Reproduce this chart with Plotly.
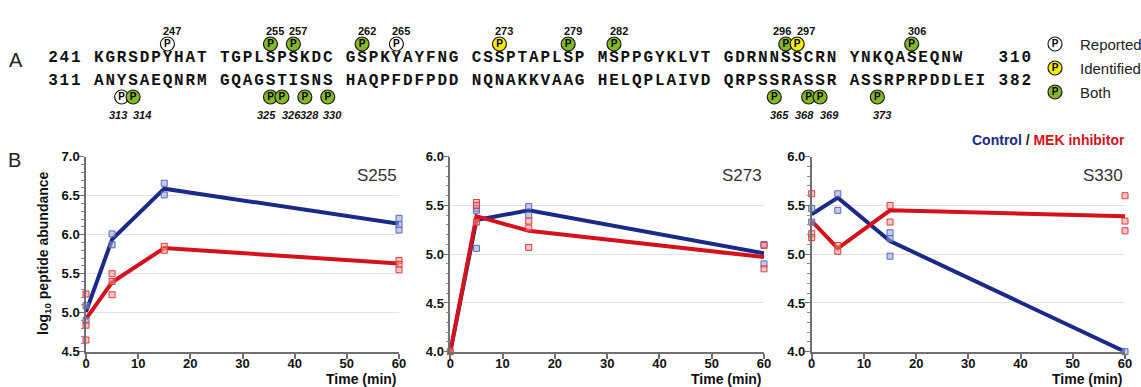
import plotly.graph_objects as go

# ---------------- Sequence, residues 241-382 ----------------
FIRST_RESIDUE = 241
ROW_BREAK = 310           # last residue of the first line
LAST_RESIDUE = 382
SEQUENCE = ("KGRSDPYHATTGPLSPSKDCGSPKYAYFNGCSSPTAPLSPMSPPGYKLVTGDRNNSSCRNYNKQASEQNW"
            "ANYSAEQNRMGQAGSTISNSHAQPFDFPDDNQNAKKVAAGHELQPLAIVDQRPSSRASSRASSRPRPDDLEI")

# phosphorylation sites
SITES_REPORTED = [247, 265, 313]
SITES_IDENTIFIED = [273, 297]
SITES_BOTH = [255, 257, 262, 279, 282, 296, 306, 314, 325, 326, 328, 330, 365, 368, 369, 373]
SITE_LEGEND = ["Reported", "Identified", "Both"]

# ---------------- Time course (log10 peptide abundance) ----------------
TIME = [0, 5, 15, 60]
PANELS = ["S255", "S273", "S330"]

S255_CONTROL = [5.01, 5.94, 6.59, 6.14]
S255_MEK = [4.92, 5.39, 5.83, 5.63]
S255_CONTROL_REPS = [[5.09, 4.90], [6.01, 5.87], [6.66, 6.51], [6.21, 6.13, 6.06]]
S255_MEK_REPS = [[5.24, 4.84, 4.65], [5.50, 5.40, 5.23], [5.85, 5.80], [5.67, 5.62, 5.55]]

S273_CONTROL = [4.00, 5.35, 5.45, 5.01]
S273_MEK = [4.00, 5.39, 5.24, 4.97]
S273_CONTROL_REPS = [[], [5.47, 5.45, 5.06], [5.49, 5.40], [5.10, 4.90]]
S273_MEK_REPS = [[4.00], [5.53, 5.50, 5.33], [5.34, 5.27, 5.07], [5.09, 4.85]]

S330_CONTROL = [5.41, 5.58, 5.135, 4.00]
S330_MEK = [5.34, 5.06, 5.45, 5.39]
S330_CONTROL_REPS = [[5.47, 5.33], [5.62, 5.45], [5.22, 5.16, 4.98], [4.00]]
S330_MEK_REPS = [[5.62, 5.21, 5.17], [5.09, 5.03], [5.50, 5.33], [5.60, 5.34, 5.24]]

Y_RANGES = [[4.5, 7.0], [4.0, 6.0], [4.0, 6.0]]

# ---------------- Styling / layout constants ----------------
W, H = 1141, 387
BLUE, RED = "#1a2a86", "#d3121c"
GREEN, YELLOW = "#86b825", "#f7ea10"
SANS = "Liberation Sans, Arial, sans-serif"
MONO = "Liberation Mono, DejaVu Sans Mono, monospace"

SEQ_X0, SEQ_PITCH = 47.2, 11.45           # left edge of first column, column width (px)
TEXT_Y = [58, 81]                          # sequence lines
CIRCLE_Y = [44, 97]                        # site markers
LABEL_Y = [31, 115]                        # site numbers
LABEL_DX = 5

PLOT_X = [(86, 399), (450.3, 764), (811.7, 1125)]
PLOT_Y = (156.7, 351.7)


def px_x(x):
    return x / W


def px_y(y):
    return 1 - y / H


def blocks(s):
    parts = [s[i:i + 10] for i in range(0, 60, 10)]
    parts.append(s[60:])
    return parts


row_seqs = [SEQUENCE[:ROW_BREAK - FIRST_RESIDUE + 1], SEQUENCE[ROW_BREAK - FIRST_RESIDUE + 1:]]
row_starts = [FIRST_RESIDUE, ROW_BREAK + 1]
row_ends = [ROW_BREAK, LAST_RESIDUE]
bodies = [f"{row_starts[i]} " + " ".join(blocks(row_seqs[i])) for i in range(2)]
body_len = max(len(b) for b in bodies) + 1
lines = [b.ljust(body_len) + str(row_ends[i]) for i, b in enumerate(bodies)]


def col_x(col):
    return SEQ_X0 + (col + 0.5) * SEQ_PITCH


def residue_pos(res):
    row = 0 if res <= ROW_BREAK else 1
    off = res - row_starts[row]
    col = 4 + off + min(off // 10, 6)
    return col_x(col), row


fig = go.Figure()

# ---- sequence text ----
cx, cy, ct = [], [], []
for r, line in enumerate(lines):
    for c, ch in enumerate(line):
        if ch != " ":
            cx.append(col_x(c))
            cy.append(TEXT_Y[r])
            ct.append(ch)
fig.add_trace(go.Scatter(
    x=cx, y=cy, text=ct, mode="text", xaxis="x4", yaxis="y4",
    textfont=dict(family=MONO, size=16, color="#111", weight="bold"),
    hoverinfo="skip"))

# ---- phosphosite circles ----
site_color = {}
for s in SITES_REPORTED:
    site_color[s] = "white"
for s in SITES_IDENTIFIED:
    site_color[s] = YELLOW
for s in SITES_BOTH:
    site_color[s] = GREEN
sites = sorted(site_color)
sx, sy, sc = [], [], []
for s in sites:
    x, row = residue_pos(s)
    sx.append(x)
    sy.append(CIRCLE_Y[row])
    sc.append(site_color[s])

# legend symbols
LEG_X, LEG_Y = 1055, [44, 68, 92]
leg_colors = ["white", YELLOW, GREEN]
fig.add_trace(go.Scatter(
    x=sx + [LEG_X] * 3, y=sy + LEG_Y, mode="markers+text", xaxis="x4", yaxis="y4",
    text=["P"] * (len(sx) + 3), textposition="middle center",
    textfont=dict(family=SANS, size=10, color="#000", weight="bold"),
    marker=dict(size=14, color=sc + leg_colors, line=dict(color="#1a1a1a", width=1.2)),
    hoverinfo="skip"))

annotations = []
site_set = set(sites)
for s in sites:
    x, row = residue_pos(s)
    if s + 1 in site_set and residue_pos(s + 1)[1] == row:
        ax, anchor = (x + residue_pos(s + 1)[0]) / 2 - 3, "right"
    elif s - 1 in site_set and residue_pos(s - 1)[1] == row:
        ax, anchor = (x + residue_pos(s - 1)[0]) / 2 - 1, "left"
    else:
        ax, anchor = x, "center"
    annotations.append(dict(
        x=ax + LABEL_DX, y=LABEL_Y[row], xref="x4", yref="y4", text=str(s),
        showarrow=False, xanchor=anchor, yanchor="middle",
        font=dict(family=SANS, size=11, color="#111", weight="bold",
                  style="italic" if row == 1 else "normal")))

for name, y in zip(SITE_LEGEND, LEG_Y):
    annotations.append(dict(x=1078, y=y, xref="x4", yref="y4", text=name, showarrow=False,
                            xanchor="left", yanchor="middle",
                            font=dict(family=SANS, size=15, color="#222")))

# ---- time-course panels ----
series = [
    (S255_CONTROL, S255_MEK, S255_CONTROL_REPS, S255_MEK_REPS),
    (S273_CONTROL, S273_MEK, S273_CONTROL_REPS, S273_MEK_REPS),
    (S330_CONTROL, S330_MEK, S330_CONTROL_REPS, S330_MEK_REPS),
]


def flatten(reps):
    xs, ys = [], []
    for t, vals in zip(TIME, reps):
        for v in vals:
            xs.append(t)
            ys.append(v)
    return xs, ys


for i, (ctrl, mek, ctrl_reps, mek_reps) in enumerate(series):
    xa = "x" if i == 0 else f"x{i + 1}"
    ya = "y" if i == 0 else f"y{i + 1}"
    fig.add_trace(go.Scatter(x=TIME, y=ctrl, mode="lines", xaxis=xa, yaxis=ya,
                             line=dict(color=BLUE, width=4), cliponaxis=False))
    fig.add_trace(go.Scatter(x=TIME, y=mek, mode="lines", xaxis=xa, yaxis=ya,
                             line=dict(color=RED, width=4), cliponaxis=False))
    bx, by = flatten(ctrl_reps)
    fig.add_trace(go.Scatter(x=bx, y=by, mode="markers", xaxis=xa, yaxis=ya, cliponaxis=False,
                             marker=dict(symbol="square", size=6, color="rgba(150,160,220,0.55)",
                                         line=dict(color="#5a68b8", width=1))))
    rx, ry = flatten(mek_reps)
    fig.add_trace(go.Scatter(x=rx, y=ry, mode="markers", xaxis=xa, yaxis=ya, cliponaxis=False,
                             marker=dict(symbol="square", size=6, color="rgba(245,150,150,0.55)",
                                         line=dict(color="#e03a3a", width=1))))

layout_axes = {}
for i in range(3):
    xk = "xaxis" if i == 0 else f"xaxis{i + 1}"
    yk = "yaxis" if i == 0 else f"yaxis{i + 1}"
    x0, x1 = PLOT_X[i]
    layout_axes[xk] = dict(
        domain=[px_x(x0), px_x(x1)], range=[0, 60], dtick=10, tick0=0,
        anchor="y" if i == 0 else f"y{i + 1}",
        showgrid=False, zeroline=False, showline=True, linecolor="#707070", linewidth=2,
        ticks="outside", ticklen=5, tickwidth=1.5, tickcolor="#707070",
        ticklabelstandoff=-6,
        tickfont=dict(family=SANS, size=13, color="#111", weight="bold"),
        automargin=False, fixedrange=True)
    layout_axes[yk] = dict(
        domain=[px_y(PLOT_Y[1]), px_y(PLOT_Y[0])], range=Y_RANGES[i], dtick=0.5,
        tick0=Y_RANGES[i][0], tickformat=".1f",
        anchor="x" if i == 0 else f"x{i + 1}",
        showgrid=True, gridcolor="#e3e3e3", gridwidth=1, zeroline=False,
        showline=True, linecolor="#707070", linewidth=1.5,
        ticks="outside", ticklen=5, tickwidth=1, tickcolor="#707070",
        ticklabelstandoff=-3,
        minor=dict(dtick=0.1, ticks="outside", ticklen=3, tickcolor="#8a8a8a", showgrid=False),
        tickfont=dict(family=SANS, size=13, color="#111", weight="bold"),
        automargin=False, fixedrange=True)

    dom_ref = "x domain" if i == 0 else f"x{i + 1} domain"
    annotations.append(dict(x=1, y=px_y(175), xref=dom_ref, yref="paper", text=PANELS[i],
                            showarrow=False, xanchor="right", yanchor="middle",
                            font=dict(family=SANS, size=17, color="#333")))
    annotations.append(dict(x=1, y=px_y(379), xref=dom_ref, yref="paper", text="Time (min)",
                            showarrow=False, xanchor="right", yanchor="middle",
                            font=dict(family=SANS, size=14, color="#111", weight="bold")))

layout_axes["xaxis4"] = dict(domain=[0, 1], range=[0, W], visible=False, fixedrange=True,
                             anchor="y4")
layout_axes["yaxis4"] = dict(domain=[0, 1], range=[H, 0], visible=False, fixedrange=True,
                             anchor="x4")

annotations += [
    dict(x=px_x(44), y=px_y(253), xref="paper", yref="paper",
         text="log<sub>10</sub> peptide abundance", textangle=-90, showarrow=False,
         xanchor="center", yanchor="middle",
         font=dict(family=SANS, size=14, color="#111", weight="bold")),
    dict(x=px_x(1127), y=px_y(140), xref="paper", yref="paper",
         text=f'<span style="color:{BLUE}">Control</span> / '
              f'<span style="color:{RED}">MEK inhibitor</span>',
         showarrow=False, xanchor="right", yanchor="middle",
         font=dict(family=SANS, size=14, color="#222", weight="bold")),
    dict(x=px_x(16), y=px_y(60), xref="paper", yref="paper", text="A", showarrow=False,
         xanchor="center", yanchor="middle", font=dict(family=SANS, size=20, color="#222")),
    dict(x=px_x(14), y=px_y(160), xref="paper", yref="paper", text="B", showarrow=False,
         xanchor="center", yanchor="middle", font=dict(family=SANS, size=20, color="#222")),
]

fig.update_layout(
    width=W, height=H, margin=dict(l=0, r=0, t=0, b=0),
    paper_bgcolor="white", plot_bgcolor="rgba(0,0,0,0)",
    showlegend=False, annotations=annotations, **layout_axes)

fig.write_html("out.html")
